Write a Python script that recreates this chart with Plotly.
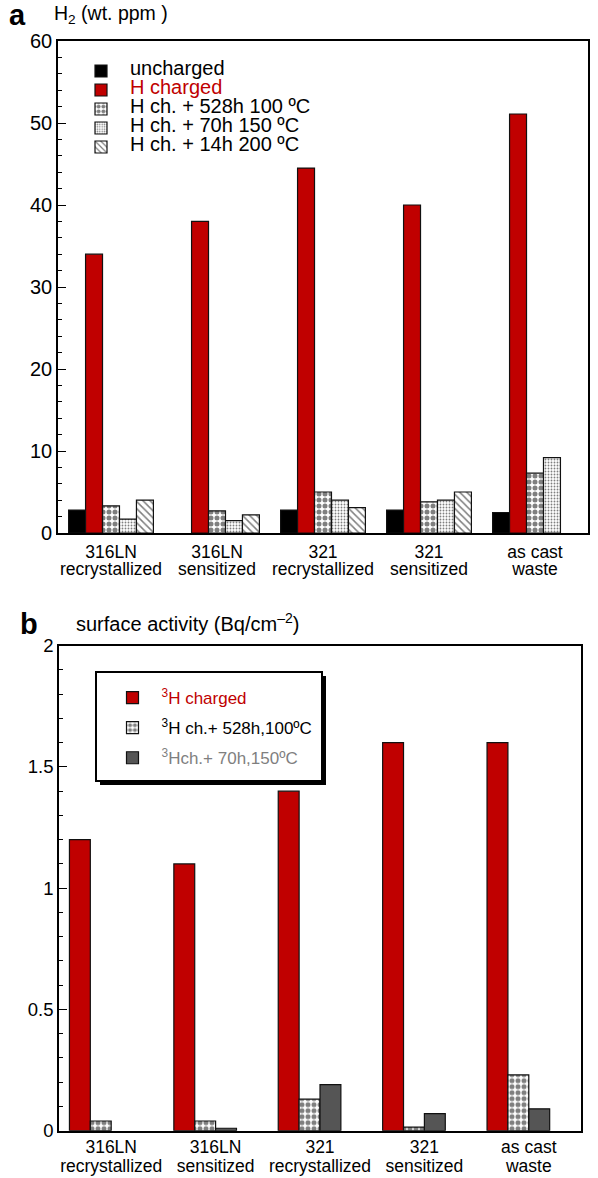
import plotly.graph_objects as go

W, H = 598, 1178

# ---------------- data ----------------
categories = ["316LN<br>recrystallized", "316LN<br>sensitized", "321<br>recrystallized",
              "321<br>sensitized", "as cast<br>waste"]

# panel a: H2 (wt. ppm)
a_uncharged = [2.8, None, 2.8, 2.8, 2.5]
a_charged = [34.0, 38.0, 44.5, 40.0, 51.1]
a_528h_100 = [3.3, 2.7, 5.0, 3.8, 7.3]
a_70h_150 = [1.7, 1.5, 4.0, 4.0, 9.2]
a_14h_200 = [4.0, 2.2, 3.1, 5.0, None]

# panel b: surface activity (Bq/cm-2)
b_charged = [1.2, 1.1, 1.4, 1.6, 1.6]
b_528h_100 = [0.04, 0.04, 0.13, 0.015, 0.23]
b_70h_150 = [None, 0.01, 0.19, 0.07, 0.09]
b_empty = [None, None, None, None, None]

a_yticks = [0, 10, 20, 30, 40, 50, 60]
b_yticks = [0, 0.5, 1, 1.5, 2]
b_yticklabels = ["0", "0.5", "1", "1.5", "2"]

RED = "#c00000"
GRAY = "#555555"
FONT = "Liberation Sans, Arial, Helvetica, sans-serif"


def px_x(x):
    return x / W


def px_y(y):
    return 1 - y / H


def big(text, size, color="black"):
    return f"<span style='font-size:{size}px;fill:{color};color:{color}'>{text}</span>"


def big_lines(text, size):
    return "<br>".join(big(part, size) for part in text.split("<br>"))


line = dict(color="#111111", width=1.2)
dots = dict(shape=".", size=6, solidity=0.55, fgcolor="black", bgcolor="white")
fine = dict(shape=".", size=3, solidity=0.3, fgcolor="black", bgcolor="white")
hatch = dict(shape="\\", size=5, solidity=0.3, fgcolor="black", bgcolor="white")

fig = go.Figure()

# ---- panel a ----
fig.add_trace(go.Bar(x=categories, y=a_uncharged, name=big("uncharged", 20),
                     marker=dict(color="black", line=line),
                     xaxis="x", yaxis="y", legend="legend"))
fig.add_trace(go.Bar(x=categories, y=a_charged, name=big("H charged", 20, RED),
                     marker=dict(color=RED, line=line),
                     xaxis="x", yaxis="y", legend="legend"))
fig.add_trace(go.Bar(x=categories, y=a_528h_100, name=big("H ch. + 528h 100 ºC", 20),
                     marker=dict(color="white", line=line, pattern=dots),
                     xaxis="x", yaxis="y", legend="legend"))
fig.add_trace(go.Bar(x=categories, y=a_70h_150, name=big("H ch. + 70h 150 ºC", 20),
                     marker=dict(color="white", line=line, pattern=fine),
                     xaxis="x", yaxis="y", legend="legend"))
fig.add_trace(go.Bar(x=categories, y=a_14h_200, name=big("H ch. + 14h 200 ºC", 20),
                     marker=dict(color="white", line=line, pattern=hatch),
                     xaxis="x", yaxis="y", legend="legend"))

# ---- panel b ----
fig.add_trace(go.Bar(x=categories, y=b_charged,
                     name=f"<span style='color:{RED}'><sup>3</sup>H charged</span>",
                     marker=dict(color=RED, line=line),
                     xaxis="x2", yaxis="y2", legend="legend2", legendgroup="b1"))
fig.add_trace(go.Bar(x=categories, y=b_528h_100, name="<sup>3</sup>H ch.+ 528h,100ºC",
                     marker=dict(color="white", line=line, pattern=dots),
                     xaxis="x2", yaxis="y2", legend="legend2", legendgroup="b2"))
fig.add_trace(go.Bar(x=categories, y=b_70h_150,
                     name="<span style='color:#7f7f7f'><sup>3</sup>Hch.+ 70h,150ºC</span>",
                     marker=dict(color=GRAY, line=line),
                     xaxis="x2", yaxis="y2", legend="legend2", legendgroup="b3"))
fig.add_trace(go.Bar(x=categories, y=b_empty, name="", showlegend=False,
                     marker=dict(color="white", line=line),
                     xaxis="x2", yaxis="y2", legendgroup="b4"))

axis_common = dict(showline=True, linecolor="black", linewidth=1.6, mirror=True,
                   showgrid=False, zeroline=False)

tick_common = dict(ticks="inside", ticklen=8, tickwidth=1.3, tickcolor="black")

fig.update_layout(
    width=W, height=H,
    margin=dict(l=0, r=0, t=0, b=0),
    paper_bgcolor="white", plot_bgcolor="white",
    font=dict(family=FONT, color="black"),
    barmode="group", bargap=0.2, bargroupgap=0,
    hovermode=False,
    xaxis=dict(domain=[px_x(58), px_x(588)], anchor="y", ticks="",
               tickvals=categories,
               ticktext=[big_lines(c, 17.5) for c in categories],
               tickfont=dict(size=13, color="black", family=FONT),
               ticklabelstandoff=8,
               automargin=False, **axis_common),
    yaxis=dict(domain=[px_y(533), px_y(41)], anchor="x", range=[0, 60],
               tickvals=a_yticks, automargin=False,
               tickfont=dict(size=20, color="black", family=FONT),
               minor=dict(dtick=2, ticks="inside", ticklen=4, tickcolor="black"),
               **tick_common, **axis_common),
    xaxis2=dict(domain=[px_x(59), px_x(581)], anchor="y2", ticks="",
                tickvals=categories,
                ticktext=[big_lines(c, 17.5) for c in categories],
                tickfont=dict(size=14.5, color="black", family=FONT),
                ticklabelstandoff=3,
                automargin=False, **axis_common),
    yaxis2=dict(domain=[px_y(1130.7), px_y(645.7)], anchor="x2", range=[0, 2],
                tickvals=b_yticks, ticktext=b_yticklabels, automargin=False,
                tickfont=dict(size=18.5, color="black", family=FONT),
                minor=dict(dtick=0.1, ticks="inside", ticklen=4, tickcolor="black"),
                **tick_common, **axis_common),
    legend=dict(x=px_x(72), y=px_y(56.5), xanchor="left", yanchor="top",
                bgcolor="rgba(0,0,0,0)", borderwidth=0,
                font=dict(size=11, color="black", family=FONT),
                tracegroupgap=0, itemwidth=48, traceorder="normal"),
    legend2=dict(x=px_x(103.5), y=px_y(680), xanchor="left", yanchor="top",
                 bgcolor="rgba(0,0,0,0)", borderwidth=0,
                 font=dict(size=17, color="black", family=FONT),
                 tracegroupgap=5, itemwidth=48, traceorder="grouped"),
    shapes=[
        dict(type="rect", xref="paper", yref="paper",
             x0=px_x(100), x1=px_x(326), y0=px_y(785), y1=px_y(676),
             fillcolor="black", line=dict(width=0)),
        dict(type="rect", xref="paper", yref="paper",
             x0=px_x(96), x1=px_x(322), y0=px_y(781), y1=px_y(672),
             fillcolor="white", line=dict(color="black", width=2)),
    ],
    annotations=[
        dict(text="<b>a</b>", x=px_x(7), y=px_y(15), xref="paper", yref="paper",
             xanchor="left", yanchor="middle", showarrow=False,
             font=dict(size=29, color="black", family=FONT)),
        dict(text="H<sub>2</sub> (wt. ppm )", x=px_x(52), y=px_y(15), xref="paper",
             yref="paper", xanchor="left", yanchor="middle", showarrow=False,
             font=dict(size=19.5, color="black", family=FONT)),
        dict(text="<b>b</b>", x=px_x(18), y=px_y(624), xref="paper", yref="paper",
             xanchor="left", yanchor="middle", showarrow=False,
             font=dict(size=29, color="black", family=FONT)),
        dict(text="surface activity (Bq/cm<sup>–2</sup>)", x=px_x(74), y=px_y(622),
             xref="paper", yref="paper", xanchor="left", yanchor="middle",
             showarrow=False, font=dict(size=20, color="black", family=FONT)),
    ],
)

fig.write_html("out.html",
               config={"displayModeBar": False},
               post_script="document.body.style.margin='0';"
                           "document.body.style.overflow='hidden';")
